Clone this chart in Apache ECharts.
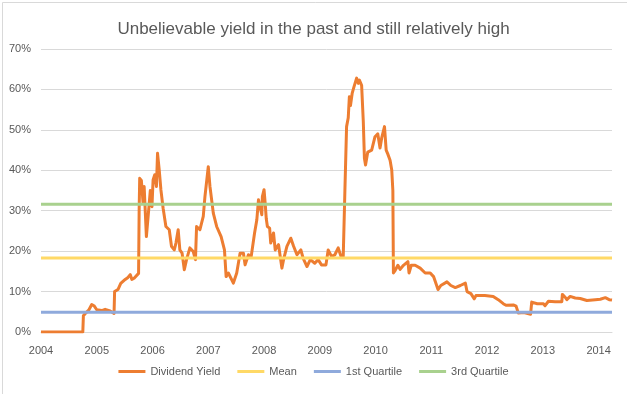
<!DOCTYPE html>
<html>
<head>
<meta charset="utf-8">
<script src="https://cdn.jsdelivr.net/npm/echarts@6/dist/echarts.min.js"></script>
<style>
html,body{margin:0;padding:0;background:#fff;}
#chart{width:627px;height:394px;}
</style>
</head>
<body>
<div id="chart"></div>
<script>
// Data (x = decimal year, y = dividend yield in %)
const years = [
2004.00,2004.75,2004.76,2004.81,2004.86,2004.91,2004.95,2005.00,2005.09,2005.15,2005.24,2005.31,2005.32,2005.38,2005.43,2005.51,2005.56,2005.60,2005.63,2005.67,2005.70,2005.75,2005.76,2005.77,2005.80,2005.83,2005.85,2005.89,2005.93,2005.96,2005.99,2006.01,2006.04,2006.07,2006.09,2006.12,2006.15,2006.19,2006.24,2006.30,2006.34,2006.39,2006.42,2006.46,2006.49,2006.53,2006.57,2006.61,2006.67,2006.73,2006.77,2006.79,2006.85,2006.91,2006.94,2007.00,2007.03,2007.09,2007.15,2007.23,2007.29,2007.32,2007.36,2007.45,2007.51,2007.57,2007.63,2007.66,2007.72,2007.77,2007.83,2007.87,2007.90,2007.93,2007.96,2007.97,2008.00,2008.02,2008.04,2008.06,2008.10,2008.12,2008.17,2008.20,2008.26,2008.32,2008.35,2008.41,2008.48,2008.53,2008.59,2008.66,2008.70,2008.77,2008.83,2008.91,2008.97,2009.03,2009.11,2009.15,2009.21,2009.27,2009.33,2009.38,2009.42,2009.45,2009.48,2009.51,2009.53,2009.55,2009.58,2009.61,2009.66,2009.69,2009.71,2009.75,2009.78,2009.80,2009.82,2009.86,2009.93,2009.99,2010.04,2010.08,2010.11,2010.16,2010.19,2010.22,2010.26,2010.29,2010.31,2010.32,2010.35,2010.40,2010.44,2010.50,2010.58,2010.60,2010.64,2010.71,2010.80,2010.89,2010.98,2011.04,2011.12,2011.17,2011.28,2011.35,2011.43,2011.52,2011.61,2011.64,2011.71,2011.77,2011.80,2011.96,2012.11,2012.20,2012.29,2012.34,2012.47,2012.52,2012.56,2012.66,2012.78,2012.80,2012.90,2013.01,2013.04,2013.10,2013.22,2013.34,2013.35,2013.40,2013.43,2013.49,2013.58,2013.67,2013.79,2013.94,2014.03,2014.12,2014.19,2014.24
];
const dividendYield = [
0,0,4.0,4.8,5.5,6.8,6.5,5.5,5.3,5.6,5.2,4.6,10.0,10.5,12.0,13.0,13.5,14.2,13.0,13.3,13.5,14.5,30,38.0,37.5,32,36,23.6,30,35,31,37.6,38.9,36,44.2,40.1,35.2,30.6,26.1,25.3,21.2,20.3,22,25.3,20.3,19.5,15.4,17.9,20.8,19.9,17.9,26.1,25.3,28.6,33.5,40.9,36,29.4,26.1,23.6,20.3,13.7,14.6,12.1,14.6,19.5,19.5,16.6,19.1,18.7,24.5,27.7,32.7,32.7,29,33.5,35.2,31.9,28,26.1,25.7,22,24.5,20.3,21.6,15.8,17.9,21.2,23.2,21.2,19.1,20.3,18.3,16.2,17.9,17.0,17.9,16.6,16.6,20.3,18.7,19.1,20.8,18.7,18.7,35,50.8,53,58.2,56,59,60.5,62.8,61.5,62.3,61,52,43,41.3,44.5,45,48.3,49,45.5,48,50.8,45,44,42.5,40.1,35,14.6,15.2,16.5,15.5,16.5,17.4,14.6,16.5,16.5,15.8,14.6,14.6,13.7,10.5,11.5,12.4,11.5,11.0,11.5,12.1,10.0,9.5,8.2,9.0,9.0,8.8,8.0,7.0,6.6,6.7,6.4,4.7,4.8,4.4,7.4,7.0,7.0,6.5,7.6,7.5,7.5,9.3,8.6,8.0,8.8,8.4,8.3,7.8,8.0,8.1,8.5,8.0,7.9
];
const meanValue = 18.3;
const firstQuartile = 4.9;
const thirdQuartile = 31.6;
const xMin = 2004;
const xMax = 2014.24;
const title = 'Unbelievable yield in the past and still relatively high';
const seriesNames = ['Dividend Yield', 'Mean', '1st Quartile', '3rd Quartile'];

const chart = echarts.init(document.getElementById('chart'), null, {renderer: 'canvas'});
const font = '"Liberation Sans", Arial, sans-serif';
const yieldData = years.map((y, i) => [y, dividendYield[i]]);
const flat = v => [[xMin, v], [xMax, v]];

chart.setOption({
  animation: false,
  backgroundColor: '#fff',
  textStyle: {fontFamily: font},
  graphic: [{
    type: 'rect', left: 0, top: 0, silent: true, z: -10,
    shape: {x: 0.5, y: 0.5, width: 626, height: 393},
    style: {fill: 'none', stroke: '#d9d9d9', lineWidth: 1}
  }],
  title: {
    text: title, left: 'center', top: 16,
    textStyle: {color: '#595959', fontSize: 17, fontWeight: 'normal', fontFamily: font}
  },
  grid: {left: 41, right: 15, top: 49, bottom: 62, containLabel: false},
  legend: {
    bottom: 12, left: 'center', itemGap: 17, itemWidth: 27, itemHeight: 3, icon: 'rect',
    textStyle: {color: '#595959', fontSize: 11, fontFamily: font},
    data: seriesNames
  },
  xAxis: {
    type: 'value', min: xMin, max: xMax, interval: 1,
    axisLine: {show: true, lineStyle: {color: '#d9d9d9', width: 1}},
    axisTick: {show: false},
    splitLine: {show: false},
    axisLabel: {
      color: '#595959', fontSize: 11, margin: 13, showMaxLabel: true,
      formatter: v => (Math.abs(v - Math.round(v)) < 1e-6 ? String(Math.round(v)) : '')
    }
  },
  yAxis: {
    type: 'value', min: 0, max: 70, interval: 10,
    axisLine: {show: false}, axisTick: {show: false},
    splitLine: {lineStyle: {color: '#d9d9d9', width: 1}},
    axisLabel: {color: '#595959', fontSize: 11, margin: 10, formatter: v => v + '%'}
  },
  series: [
    {name: seriesNames[0], type: 'line', data: yieldData, showSymbol: false, symbol: 'none',
     lineStyle: {color: '#ED7D31', width: 3, join: 'round'}, itemStyle: {color: '#ED7D31'}, z: 2},
    {name: seriesNames[1], type: 'line', data: flat(meanValue), showSymbol: false, symbol: 'none',
     lineStyle: {color: '#FFD966', width: 3}, itemStyle: {color: '#FFD966'}, z: 3},
    {name: seriesNames[2], type: 'line', data: flat(firstQuartile), showSymbol: false, symbol: 'none',
     lineStyle: {color: '#8FAADC', width: 3}, itemStyle: {color: '#8FAADC'}, z: 3},
    {name: seriesNames[3], type: 'line', data: flat(thirdQuartile), showSymbol: false, symbol: 'none',
     lineStyle: {color: '#A9D18E', width: 3}, itemStyle: {color: '#A9D18E'}, z: 3}
  ]
});
</script>
</body>
</html>
